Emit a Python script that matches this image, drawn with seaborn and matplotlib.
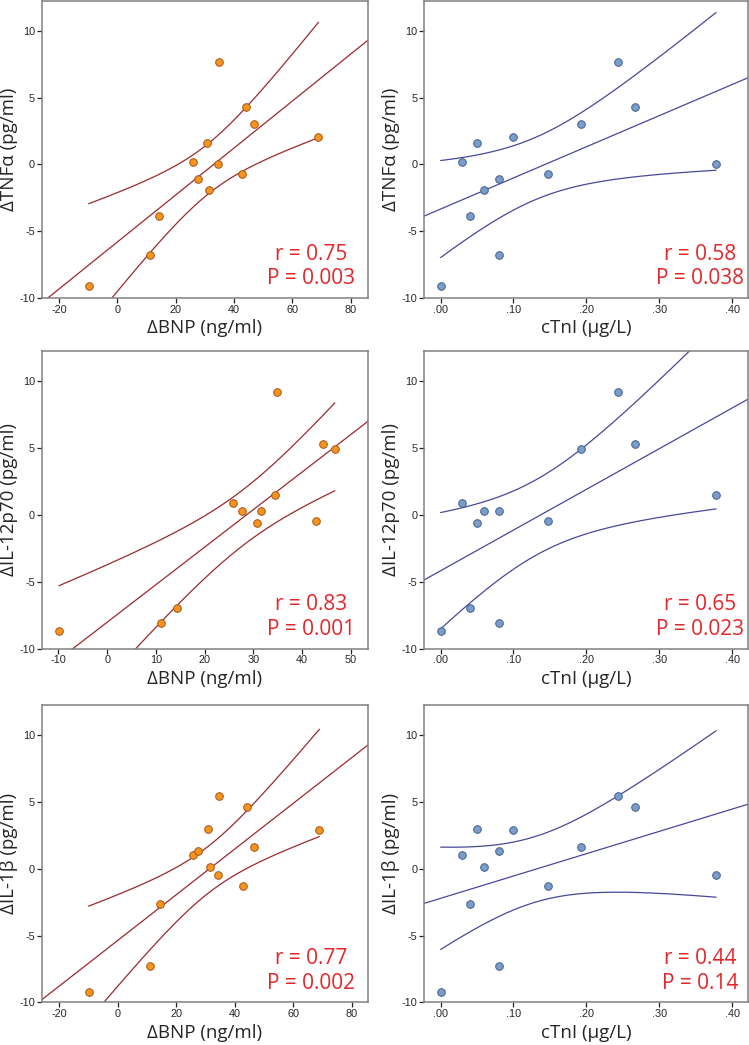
import numpy as np
import pandas as pd
import matplotlib
matplotlib.use("Agg")
import matplotlib.pyplot as plt
import seaborn as sns
from matplotlib.ticker import FuncFormatter

# one value per subject
bnp = [-9.9, 11.1, 14.4, 25.8, 27.6, 30.8, 31.5, 34.5, 34.8, 42.8, 44.2, 46.7, 69.0]
ctni = [0.00, 0.08, 0.04, 0.03, 0.08, 0.05, 0.06, 0.378, 0.243, 0.147, 0.267, 0.193, 0.10]
tnfa = [-9.08, -6.80, -3.88, 0.21, -1.06, 1.59, -1.91, 0.01, 7.70, -0.69, 4.31, 3.03, 2.03]
il12 = [-8.70, -8.06, -7.00, 0.90, 0.27, -0.57, 0.30, 1.47, 9.23, -0.45, 5.31, 4.91, np.nan]
il1b = [-9.18, -7.28, -2.66, 1.06, 1.31, 2.98, 0.14, -0.49, 5.43, -1.26, 4.63, 1.61, 2.91]

y_labels = ["ΔTNFα (pg/ml)", "ΔIL-12p70 (pg/ml)", "ΔIL-1β (pg/ml)"]
x_labels = ["ΔBNP (ng/ml)", "cTnI (μg/L)"]
r_text = [["r = 0.75\nP = 0.003", "r = 0.58\nP = 0.038"],
          ["r = 0.83\nP = 0.001", "r = 0.65\nP = 0.023"],
          ["r = 0.77\nP = 0.002", "r = 0.44\nP = 0.14"]]

df = pd.DataFrame({"bnp": bnp, "ctni": ctni, "tnfa": tnfa, "il12": il12, "il1b": il1b})

T_CRIT = {10: 2.2281, 11: 2.2010}


def ci_lines(x, y):
    # 95% confidence band of the mean regression line
    x = np.asarray(x, float)
    y = np.asarray(y, float)
    n = len(x)
    b, a = np.polyfit(x, y, 1)
    resid = y - (a + b * x)
    s = np.sqrt(np.sum(resid ** 2) / (n - 2))
    sxx = np.sum((x - x.mean()) ** 2)
    xs = np.linspace(x.min(), x.max(), 200)
    se = s * np.sqrt(1.0 / n + (xs - x.mean()) ** 2 / sxx)
    fit = a + b * xs
    t = T_CRIT[n - 2]
    return xs, fit - t * se, fit + t * se


sns.set_style("ticks")
plt.rcParams["axes.unicode_minus"] = False

fig = plt.figure(figsize=(7.49, 10.45), dpi=100)

lefts = [0.0561, 0.5665]
widths = [0.4352, 0.4318]
bottoms = [0.7148, 0.3794, 0.0407]
height = 0.2847

xlims = [[(-25.9, 86.0), (-0.0224, 0.4215)],
         [(-13.36, 53.5), (-0.0224, 0.4215)],
         [(-25.8, 85.6), (-0.0224, 0.4215)]]
ycols = ["tnfa", "il12", "il1b"]
xcols = ["bnp", "ctni"]

styles = [
    dict(face="#f7941d", edge="#a35418", line="#9a2a2e"),
    dict(face="#7c9cc9", edge="#3f5f8f", line="#48489a"),
]

for row in range(3):
    for col in range(2):
        ax = fig.add_axes([lefts[col], bottoms[row], widths[col], height])
        st = styles[col]
        sub = df[[xcols[col], ycols[row]]].dropna()
        ax.set_xlim(*xlims[row][col])
        ax.set_ylim(-10, 12.27)
        sns.regplot(data=sub, x=xcols[col], y=ycols[row], ax=ax, ci=None, truncate=False,
                    scatter_kws=dict(s=30, color=st["face"], edgecolor=st["edge"],
                                     linewidths=0.7, alpha=1, zorder=3),
                    line_kws=dict(color=st["line"], lw=0.9))
        xs, lo, hi = ci_lines(sub[xcols[col]], sub[ycols[row]])
        ax.plot(xs, lo, color=st["line"], lw=0.9)
        ax.plot(xs, hi, color=st["line"], lw=0.9)
        ax.set_xlim(*xlims[row][col])
        ax.set_ylim(-10, 12.27)

        ax.set_yticks([-10, -5, 0, 5, 10])
        if col == 0:
            ax.set_xticks(np.arange(-20, 81, 20) if row != 1 else np.arange(-10, 51, 10))
        else:
            ax.set_xticks([0, 0.1, 0.2, 0.3, 0.4])
            ax.xaxis.set_major_formatter(FuncFormatter(lambda v, p: f"{v:.2f}".lstrip("0")))

        for sp in ax.spines.values():
            sp.set_visible(True)
            sp.set_color("#808080")
            sp.set_linewidth(1.1)
        ax.tick_params(length=3.5, width=0.9, color="#222222", labelsize=7.8, pad=1.5,
                       top=False, right=False)
        for lab in ax.get_xticklabels() + ax.get_yticklabels():
            lab.set_family("Liberation Sans")

        ax.set_xlabel(x_labels[col], fontsize=13.5, family="Open Sans", labelpad=3)
        ax.set_ylabel(y_labels[row], fontsize=13.5, family="Open Sans", labelpad=1)

        cx = 0.825 if col == 0 else 0.852
        ax.text(cx, 0.03, r_text[row][col], transform=ax.transAxes, ha="center", va="bottom",
                fontsize=15, color="#e3262b", family="Open Sans", linespacing=1.2)

fig.savefig("out.png", dpi=100)
plt.close(fig)
